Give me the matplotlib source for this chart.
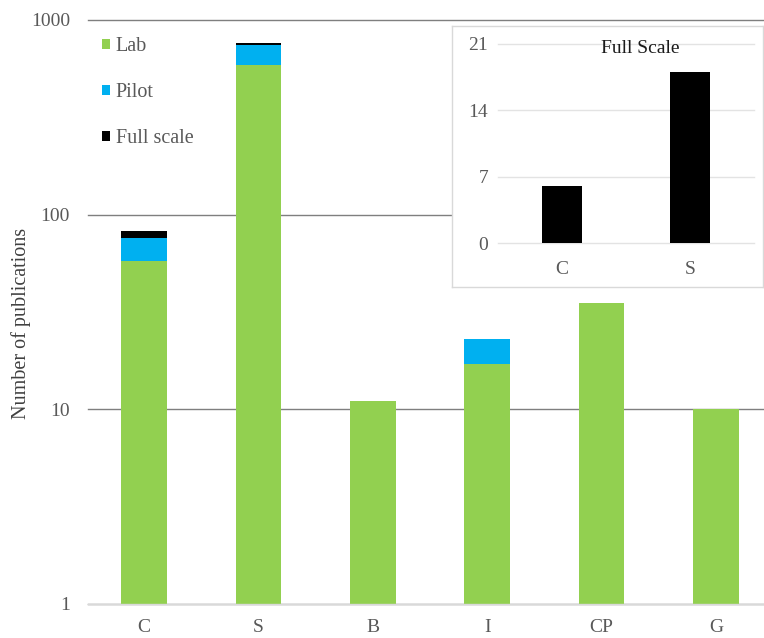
import numpy as np
import matplotlib
matplotlib.use('Agg')
import matplotlib.pyplot as plt
from matplotlib.ticker import FixedLocator, NullLocator

plt.rcParams['font.family'] = ['Liberation Serif', 'DejaVu Serif']

# data
categories = ['C', 'S', 'B', 'I', 'CP', 'G']
lab = [58, 588, 11, 17, 35, 10]
pilot = [18, 160, 0, 6, 0, 0]
full = [6, 18, 0, 0, 0, 0]

inset_cats = ['C', 'S']
inset_full = [6, 18]

y_ticks = [1, 10, 100, 1000]
inset_ticks = [0, 7, 14, 21]

GREEN = '#92D050'
BLUE = '#00B0F0'
BLACK = '#000000'
TICK = '#595959'

W, H = 764, 638
fig = plt.figure(figsize=(W / 100, H / 100), dpi=100)

def fig_rect(x0, y0, x1, y1):
    '''pixel box (top-left origin) to figure fraction'''
    return [x0 / W, (H - y1) / H, (x1 - x0) / W, (y1 - y0) / H]

# main chart
ax = fig.add_axes(fig_rect(88, 20, 764, 604))
x = np.arange(len(categories))
lab = np.array(lab, float)
pilot = np.array(pilot, float)
full = np.array(full, float)

ax.bar(x, lab, width=0.40, color=GREEN, linewidth=0, label='Lab')
ax.bar(x, pilot, width=0.40, bottom=lab, color=BLUE, linewidth=0, label='Pilot')
ax.bar(x, full, width=0.40, bottom=lab + pilot, color=BLACK, linewidth=0, label='Full scale')

ax.set_yscale('log')
ax.set_ylim(1, 1000)
ax.set_xlim(-0.49, 5.42)
ax.yaxis.set_major_locator(FixedLocator(y_ticks))
ax.yaxis.set_minor_locator(NullLocator())
ax.set_yticklabels([str(t) for t in y_ticks])
ax.set_xticks(x)
ax.set_xticklabels(categories)
ax.tick_params(axis='y', length=0, pad=13, labelsize=14, labelcolor=TICK)
ax.tick_params(axis='x', length=0, pad=11, labelsize=14, labelcolor=TICK)

for s in ['top', 'right', 'left']:
    ax.spines[s].set_visible(False)
ax.spines['bottom'].set_color('#d9d9d9')
ax.spines['bottom'].set_linewidth(1)

ax.set_axisbelow(True)
ax.yaxis.grid(True, color='#7f7f7f', linewidth=1)
for gl in ax.get_ygridlines():
    gl.set_clip_on(False)

ax.set_ylabel('Number of publications', fontsize=14.5, color='#404040')
ax.yaxis.set_label_coords(-0.084, 0.48)

ax.legend(loc='upper left', bbox_to_anchor=(0.02, 0.971), frameon=False,
          fontsize=14.5, labelcolor=TICK, borderpad=0, borderaxespad=0,
          handlelength=0.42, handleheight=0.42, handletextpad=0.28,
          labelspacing=1.35)

# inset box
box = fig.add_axes(fig_rect(452, 26, 763, 287))
box.set_xticks([])
box.set_yticks([])
for s in box.spines.values():
    s.set_color('#d9d9d9')
    s.set_linewidth(1)
box.set_facecolor('white')
box.set_zorder(3)

# inset chart
ins = fig.add_axes(fig_rect(498, 44, 754, 243.3))
ins.set_zorder(4)
ins.patch.set_alpha(0)
xi = np.arange(len(inset_cats))
ins.bar(xi, inset_full, width=0.31, color=BLACK, linewidth=0)
ins.set_xlim(-0.5, 1.5)
ins.set_ylim(0, 21)
ins.set_yticks(inset_ticks)
ins.set_xticks(xi)
ins.set_xticklabels(inset_cats)
ins.tick_params(axis='y', length=0, pad=7, labelsize=14, labelcolor=TICK)
ins.tick_params(axis='x', length=0, pad=13, labelsize=14, labelcolor=TICK)
for s in ins.spines.values():
    s.set_visible(False)
ins.set_axisbelow(True)
ins.yaxis.grid(True, color='#e3e3e3', linewidth=1)
for gl in ins.get_ygridlines():
    gl.set_clip_on(False)
ins.text(0.555, 0.975, 'Full Scale', transform=ins.transAxes, ha='center',
         va='center', fontsize=14, color='#1a1a1a')

fig.savefig('out.png', dpi=100)
